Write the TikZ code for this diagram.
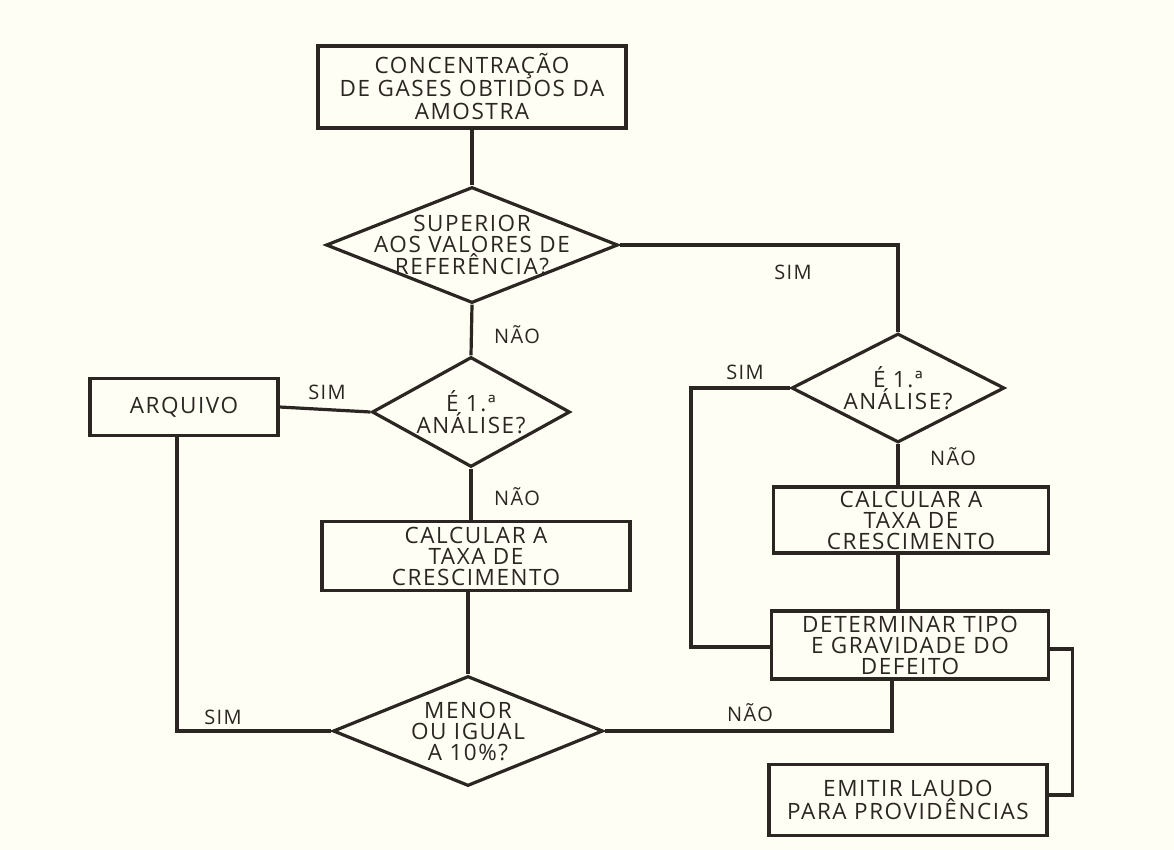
\documentclass[tikz,border=0pt]{standalone}
\usepackage{fontspec}
\setmainfont{Open Sans}[LetterSpace=7]
\usetikzlibrary{shapes.geometric}
\definecolor{paper}{HTML}{FFFEF4}
\definecolor{ink}{HTML}{2B2622}
\begin{document}
\begin{tikzpicture}[x=1pt,y=-1pt,
  box/.style={draw=ink, line width=3.2pt, rectangle, align=center, text=ink,
    font=\fontsize{22.5}{21}\selectfont, inner sep=0pt},
  dia/.style={draw=ink, line width=3.2pt, diamond, inner sep=0pt},
  dtxt/.style={align=center, text=ink, font=\fontsize{22.5}{21}\selectfont},
  lbl/.style={text=ink, font=\fontsize{20}{20}\selectfont},
  conn/.style={draw=ink, line width=3.2pt}]
\path[fill=paper] (0,0) rectangle (1174,850);

% boxes
\node[box, minimum width=308pt, minimum height=82pt,
  font=\fontsize{22.5}{23}\selectfont] (top) at (472,87)
  {CONCENTRAÇÃO\\DE GASES OBTIDOS DA\\AMOSTRA};
\node[box, minimum width=188pt, minimum height=57pt] (arq) at (184,407) {ARQUIVO};
\node[box, minimum width=308pt, minimum height=69pt] (calcL) at (476,556)
  {CALCULAR A\\TAXA DE\\CRESCIMENTO};
\node[box, minimum width=275pt, minimum height=66pt] (calcR) at (911,520)
  {CALCULAR A\\TAXA DE\\CRESCIMENTO};
\node[box, minimum width=277pt, minimum height=68pt] (det) at (910,645)
  {DETERMINAR TIPO\\E GRAVIDADE DO\\DEFEITO};
\node[box, minimum width=278pt, minimum height=71pt] (emit) at (908,800)
  {EMITIR LAUDO\\PARA PROVIDÊNCIAS};

% diamonds
\node[dia, minimum width=292pt, minimum height=116pt,
  label={[dtxt]center:SUPERIOR\\AOS VALORES DE\\REFERÊNCIA?}] (d1) at (472,245) {};
\node[dia, minimum width=198pt, minimum height=110pt,
  label={[dtxt]center:É 1.ª\\ANÁLISE?}] (d2) at (471,412) {};
\node[dia, minimum width=213pt, minimum height=109pt,
  label={[dtxt]center:É 1.ª\\ANÁLISE?}] (d3) at (898,388) {};
\node[dia, minimum width=270pt, minimum height=110pt,
  label={[dtxt]center:MENOR\\OU IGUAL\\A 10\%?}] (d4) at (468,731) {};

% connectors
\draw[conn] (top.south) -- (d1.north);
\draw[conn] (d1.east) -| (d3.north);
\draw[conn] (d1.south) -- (d2.north);
\draw[conn] (d2.west) -- (arq.east);
\draw[conn] (d2.south) -- (d2.south |- calcL.north);
\draw[conn] (d4.north |- calcL.south) -- (d4.north);
\draw[conn] ([xshift=-7pt]arq.south) |- (d4.west);
\draw[conn] (d3.south) -- (d3.south |- calcR.north);
\draw[conn] (d3.south |- calcR.south) -- (d3.south |- det.north);
\draw[conn] (d3.west) -- ++(-99,0) |- ([yshift=-2pt]det.west);
\draw[conn] (d4.east) -| ([xshift=-18pt]det.south);
\draw[conn] ([yshift=-4pt]det.east) -- ++(22,0) |- ([yshift=5pt]emit.east);

% labels
\node[lbl] (l1) at (793,272) {SIM};
\node[lbl] (l2) at (517,335) {NÃO};
\node[lbl] (l3) at (327,392) {SIM};
\node[lbl] (l4) at (517,497) {NÃO};
\node[lbl] (l5) at (223,717) {SIM};
\node[lbl] (l6) at (750,713) {NÃO};
\node[lbl] (l7) at (745,372) {SIM};
\node[lbl] (l8) at (953,457) {NÃO};
\end{tikzpicture}
\end{document}
